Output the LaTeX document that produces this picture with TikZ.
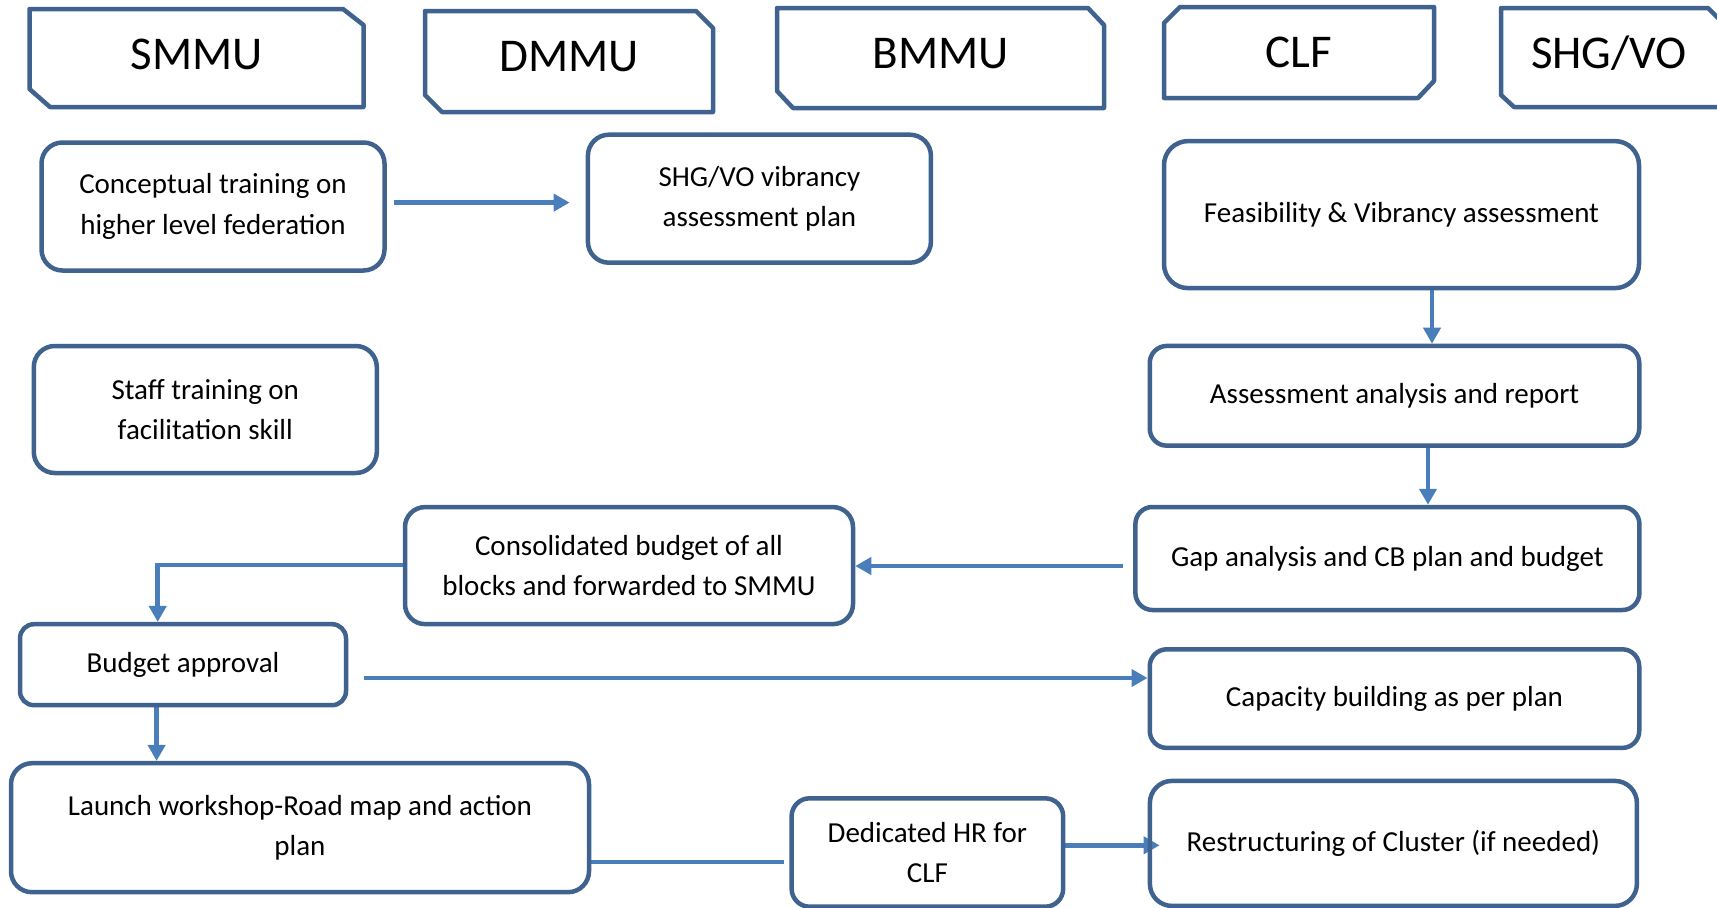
\documentclass[tikz,border=0pt]{standalone}
\usepackage{fontspec}
\setmainfont{Carlito}
\usetikzlibrary{arrows.meta,backgrounds}
\definecolor{edge}{RGB}{63,98,143}
\definecolor{flow}{RGB}{74,126,187}
\tikzset{
  box/.style={draw=edge, line width=4.5pt, rounded corners=#1, align=center,
    inner sep=0pt, text=black, font=\fontsize{29}{40.5}\selectfont},
  box/.default=18pt,
  hdr/.style={draw=edge, line width=4.5pt, line join=round},
  hdrtext/.style={anchor=base, inner sep=0pt, text=black,
    font=\fontsize{47}{56}\selectfont},
  flowline/.style={draw=flow, line width=4.6pt},
  flowarrow/.style={flowline, -{Triangle[length=16pt,width=17pt]}},
}
\begin{document}
\begin{tikzpicture}[x=1pt,y=-1pt]
\useasboundingbox (0,0) rectangle (1717,908);
\clip (0,0) rectangle (1717,908);

% column headers (chamfered frames)
\draw[hdr] (29.5,9) -- (343,9) -- (363.5,25) -- (363.5,107) -- (50,107) -- (29.5,89) -- cycle;
\draw[hdr] (425,11) -- (696,11) -- (713,28) -- (713,112) -- (442,112) -- (425,95) -- cycle;
\draw[hdr] (777,8) -- (1088,8) -- (1104,25) -- (1104,108) -- (793,108) -- (777,91) -- cycle;
\draw[hdr] (1180,7) -- (1434,7) -- (1434,81) -- (1418,98) -- (1164,98) -- (1164,23) -- cycle;
\draw[hdr] (1501,8) -- (1708,8) -- (1725,25) -- (1725,107) -- (1514,107) -- (1501,95) -- cycle;

\node[hdrtext] (hsmmu) at (196.5,69) {SMMU};
\node[hdrtext] (hdmmu) at (569,71) {DMMU};
\node[hdrtext] (hbmmu) at (940.5,68) {BMMU};
\node[hdrtext] (hclf)  at (1299,67) {CLF};
\node[hdrtext] (hshg)  at (1609,68) {SHG/VO};

% process boxes
\node[box=21pt, minimum width=343pt, minimum height=128pt] (conc) at (213,206.5)
  {Conceptual training on\\higher level federation};
\node[box=21pt, minimum width=343pt, minimum height=128pt] (plan) at (759.4,198.7)
  {SHG/VO vibrancy\\assessment plan};
\node[box=24pt, minimum width=475pt, minimum height=147pt] (feas) at (1401.5,214.6)
  {Feasibility \& Vibrancy assessment};
\node[box=21pt, minimum width=343pt, minimum height=127pt] (staff) at (205.3,409.5)
  {Staff training on\\facilitation skill};
\node[box=17pt, minimum width=489.5pt, minimum height=99.7pt] (assess) at (1394.5,395.8)
  {Assessment analysis and report};
\node[box=20pt, minimum width=448pt, minimum height=117pt] (consol) at (629,565.6)
  {Consolidated budget of all\\blocks and forwarded to SMMU};
\node[box=17pt, minimum width=504pt, minimum height=103pt] (gap) at (1387.4,558.5)
  {Gap analysis and CB plan and budget};
\node[box=14pt, minimum width=326pt, minimum height=81pt] (budget) at (183,664.7)
  {Budget approval};
\node[box=17pt, minimum width=489.5pt, minimum height=98.6pt] (cap) at (1394.5,698.6)
  {Capacity building as per plan};
\node[box=21pt, minimum width=578pt, minimum height=129pt] (launch) at (300,827.7)
  {Launch workshop-Road map and action\\plan};
\node[box=18pt, minimum width=271.6pt, minimum height=108.4pt] (hr) at (927.4,852.5)
  {Dedicated HR for\\CLF};
\node[box=22pt, minimum width=487pt, minimum height=125pt] (restr) at (1393.4,843.4)
  {Restructuring of Cluster (if needed)};

% connectors
\begin{pgfonlayer}{background}
\draw[flowarrow, shorten <=7pt, shorten >=16pt] (conc.east |- 0,202.6) -- (plan.west |- 0,202.6);
\draw[flowarrow] (feas.south -| 1432,0) -- (assess.north -| 1432,0);
\draw[flowarrow] (assess.south -| 1428,0) -- (gap.north -| 1428,0);
\draw[flowarrow, shorten <=10pt] (gap.west |- 0,566) -- (consol.east |- 0,566);
\draw[flowarrow] (consol.west |- 0,565) -| (budget.north -| 157.7,0);
\draw[flowarrow, shorten <=16pt] (budget.east |- 0,678) -- (cap.west |- 0,678);
\draw[flowarrow] (budget.south -| 156.6,0) -- (launch.north -| 156.6,0);
\draw[flowline, shorten >=5pt] (launch.east |- 0,861.8) -- (hr.west |- 0,861.8);
\draw[flowarrow, shorten >=-12pt] (hr.east |- 0,845.3) -- (restr.west |- 0,845.3);
\end{pgfonlayer}
\end{tikzpicture}
\end{document}
